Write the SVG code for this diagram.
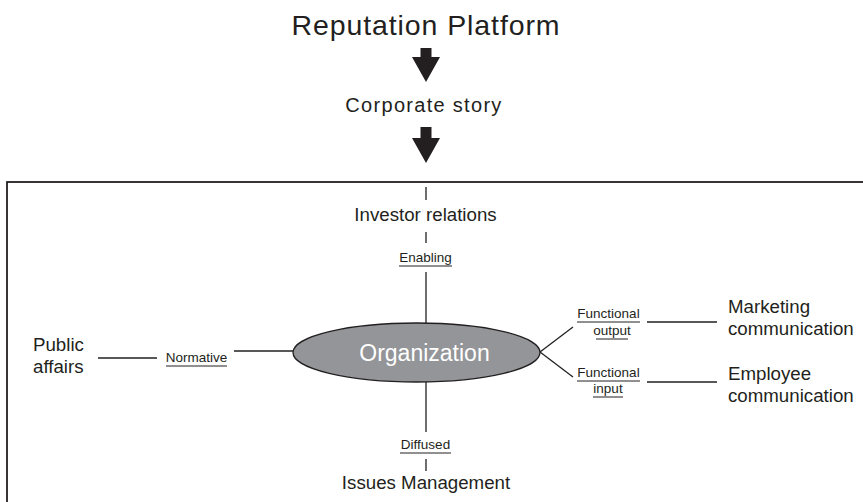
<svg xmlns="http://www.w3.org/2000/svg" width="863" height="502" viewBox="0 0 863 502">
<style>
text{font-family:"Liberation Sans",Arial,sans-serif;fill:#231f20}
.big{font-size:18.7px}
.lbl{font-size:13.5px}
.ln{stroke:#231f20;stroke-width:1.3;fill:none}
.ul{stroke:#231f20;stroke-width:1;fill:none}
.arrow{fill:#231f20}
</style>
<rect x="0" y="0" width="863" height="502" fill="#fff"/>
<g id="title">
<text x="426" y="35" text-anchor="middle" style="font-size:28.5px;letter-spacing:0.9px">Reputation Platform</text>
</g>
<g id="arrow1"><polygon class="arrow" points="420.5,48 431.5,48 431.5,57 440,57 426,82 412,57 420.5,57"/></g>
<g id="corporate-story">
<text x="424" y="112" text-anchor="middle" style="font-size:20px;letter-spacing:1.3px">Corporate story</text>
</g>
<g id="arrow2"><polygon class="arrow" points="420.5,127 431.5,127 431.5,138 440,138 426,163 412,138 420.5,138"/></g>
<rect id="frame" x="7" y="182" width="870" height="340" fill="none" stroke="#231f20" stroke-width="1.8"/>
<g id="connectors">
<line class="ln" x1="426" y1="187" x2="426" y2="200"/>
<line class="ln" x1="426" y1="232" x2="426" y2="243"/>
<line class="ln" x1="426" y1="272" x2="426" y2="323"/>
<line class="ln" x1="426" y1="382" x2="426" y2="432"/>
<line class="ln" x1="426" y1="459" x2="426" y2="471"/>
<line class="ln" x1="98" y1="358" x2="157" y2="358"/>
<line class="ln" x1="234" y1="351" x2="293" y2="351"/>
<line class="ln" x1="540" y1="352" x2="573" y2="327"/>
<line class="ln" x1="540" y1="352" x2="573" y2="377"/>
<line class="ln" x1="647" y1="322" x2="717" y2="322"/>
<line class="ln" x1="647" y1="382" x2="717" y2="382"/>
</g>
<g id="organization">
<ellipse cx="416.5" cy="352.5" rx="123.5" ry="29.5" fill="#939598" stroke="#231f20" stroke-width="1.3"/>
<text x="424.5" y="361" text-anchor="middle" style="font-size:23px;fill:#fff">Organization</text>
</g>
<g id="investor-relations">
<text class="big" x="425.5" y="221" text-anchor="middle">Investor relations</text>
</g>
<g id="enabling">
<text class="lbl" x="425.5" y="262" text-anchor="middle">Enabling</text>
<line class="ul" x1="399" y1="266" x2="452" y2="266"/>
</g>
<g id="public-affairs">
<text class="big" x="33" y="351">Public</text>
<text class="big" x="33" y="373">affairs</text>
</g>
<g id="normative">
<text class="lbl" x="196.5" y="362" text-anchor="middle">Normative</text>
<line class="ul" x1="166" y1="366" x2="227" y2="366"/>
</g>
<g id="functional-output">
<text class="lbl" x="608.5" y="318" text-anchor="middle">Functional</text>
<line class="ul" x1="577" y1="322" x2="640" y2="322"/>
<text class="lbl" x="612" y="335" text-anchor="middle">output</text>
<line class="ul" x1="596" y1="339" x2="628" y2="339"/>
</g>
<g id="functional-input">
<text class="lbl" x="608.5" y="377" text-anchor="middle">Functional</text>
<line class="ul" x1="577" y1="381" x2="640" y2="381"/>
<text class="lbl" x="608" y="393" text-anchor="middle">input</text>
<line class="ul" x1="593" y1="397" x2="623" y2="397"/>
</g>
<g id="marketing-communication">
<text class="big" x="728" y="313">Marketing</text>
<text class="big" x="728" y="335">communication</text>
</g>
<g id="employee-communication">
<text class="big" x="728" y="380">Employee</text>
<text class="big" x="728" y="402">communication</text>
</g>
<g id="diffused">
<text class="lbl" x="425.5" y="449" text-anchor="middle">Diffused</text>
<line class="ul" x1="400" y1="453" x2="451" y2="453"/>
</g>
<g id="issues-management">
<text class="big" x="426" y="489" text-anchor="middle">Issues Management</text>
</g>
</svg>
